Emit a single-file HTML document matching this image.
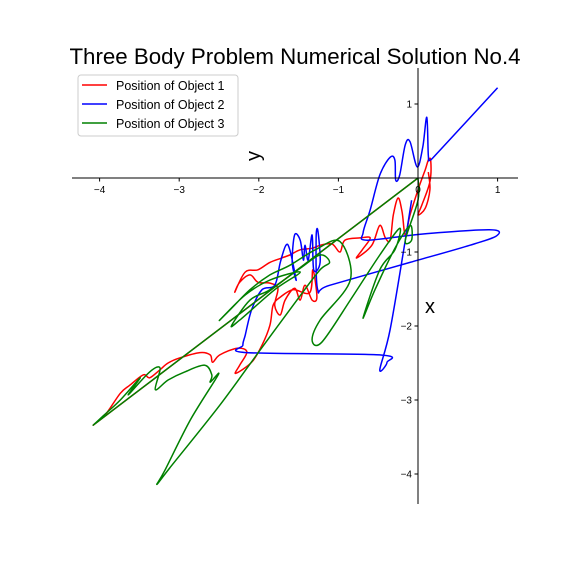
<!DOCTYPE html>
<html><head><meta charset="utf-8"><style>
body{margin:0;background:#fff;}
svg text{font-family:"Liberation Sans","DejaVu Sans",sans-serif;}
</style></head><body>
<svg id="chart" width="576" height="576" viewBox="0 0 576 576" xmlns="http://www.w3.org/2000/svg">
<rect width="576" height="576" fill="#fff"/>
<text x="295" y="64" font-size="22.3" text-anchor="middle">Three Body Problem Numerical Solution No.4</text>
<g id="series"></g>
<g id="axes"></g>
<text x="260" y="156" font-size="20" text-anchor="middle" transform="rotate(-90 260 156)">y</text>
<text x="430" y="313" font-size="20" text-anchor="middle">x</text>
<g>
<rect x="78" y="75" width="160" height="61" rx="3" fill="#fff" fill-opacity="0.8" stroke="#ccc"/>
<g><line x1="82" y1="85" x2="107" y2="85" stroke="red" stroke-width="1.6"/><text x="116" y="90" font-size="12.5">Position of Object 1</text></g>
<g><line x1="82" y1="104" x2="107" y2="104" stroke="blue" stroke-width="1.6"/><text x="116" y="109" font-size="12.5">Position of Object 2</text></g>
<g><line x1="82" y1="123" x2="107" y2="123" stroke="green" stroke-width="1.6"/><text x="116" y="128" font-size="12.5">Position of Object 3</text></g>
</g>
</svg>
<script>
const xTicks=[-4,-3,-2,-1,0,1];
const yTicks=[1,0,-1,-2,-3,-4];
const obj1X=[0,-4.08,-3.93,-3.74,-3.62,-3.45,-3.37,-3.24,-3.14,-2.99,-2.74,-2.61,-2.58,-2.49,-2.27,-2.15,-2.24,-2.29,-2.09,-1.96,-1.86,-1.82,-1.73,-1.57,-1.36,-1.32,-1.27,-1.33,-1.42,-1.48,-1.55,-1.67,-1.73,-1.80,-1.76,-1.86,-2.01,-2.11,-2.24,-2.30,-2.17,-2.01,-1.86,-1.71,-1.61,-1.48,-1.33,-1.23,-1.08,-0.98,-0.92,-0.73,-0.60,-0.70,-0.77,-0.58,-0.48,-0.41,-0.35,-0.31,-0.25,-0.20,-0.16,-0.10,0.00,0.09,0.13,0.16,0.15,0.05,0.00,0.09,0.15,0.13];
const obj1Y=[0,-3.34,-3.20,-2.91,-2.80,-2.66,-2.70,-2.59,-2.50,-2.43,-2.36,-2.39,-2.49,-2.39,-2.30,-2.35,-2.53,-2.64,-2.49,-2.26,-1.99,-1.72,-1.61,-1.51,-1.55,-1.24,-1.61,-1.65,-1.45,-1.65,-1.49,-1.65,-1.85,-1.72,-1.49,-1.42,-1.41,-1.31,-1.41,-1.54,-1.27,-1.24,-1.14,-1.08,-1.04,-0.97,-0.95,-0.91,-0.89,-1.00,-0.84,-0.81,-0.81,-0.97,-1.08,-0.91,-0.64,-0.81,-0.84,-0.50,-0.27,-0.46,-0.77,-0.50,-0.16,0.11,0.24,0.24,-0.05,-0.36,-0.50,-0.41,-0.16,0.08];
const obj2X=[1.0,0.28,0.15,0.13,0.11,0.06,-0.01,-0.10,-0.16,-0.23,-0.28,-0.29,-0.35,-0.48,-0.60,-0.69,-0.64,0.03,0.90,0.99,0.65,-0.10,-1.11,-1.26,-1.28,-1.26,-1.23,-1.31,-1.33,-1.38,-1.42,-1.44,-1.48,-1.55,-1.58,-1.53,-1.61,-1.66,-1.73,-1.80,-1.96,-2.09,-2.17,-2.20,-2.15,-0.48,-0.39,-0.48,-0.35,-0.16,-0.08];
const obj2Y=[1.22,0.38,0.24,0.31,0.82,0.42,0.15,0.49,0.45,0.04,-0.03,0.24,0.28,0.04,-0.43,-0.74,-0.84,-0.76,-0.70,-0.78,-0.91,-1.14,-1.45,-1.51,-0.84,-0.70,-1.14,-1.24,-0.77,-1.11,-0.91,-1.11,-0.84,-0.77,-1.14,-1.38,-0.97,-0.91,-1.14,-1.45,-1.51,-1.78,-2.12,-2.26,-2.36,-2.39,-2.49,-2.59,-2.05,-0.84,-0.30];
const obj3X=[0,-4.08,-3.94,-3.74,-3.49,-3.64,-3.37,-3.24,-3.30,-3.14,-2.93,-2.68,-2.59,-2.61,-2.51,-2.86,-3.18,-3.28,-3.12,-2.49,-1.98,-1.48,-1.23,-1.11,-1.23,-1.48,-1.86,-2.11,-2.34,-2.24,-1.80,-1.48,-1.86,-2.17,-2.49,-2.36,-2.11,-1.86,-1.61,-1.29,-0.98,-0.85,-1.23,-1.33,-1.21,-0.85,-0.48,-0.23,-0.29,-0.48,-0.69,-0.54,-0.29,-0.10,-0.08,-0.16,0,0];
const obj3Y=[0,-3.34,-3.20,-3.00,-2.70,-2.93,-2.62,-2.57,-2.86,-2.73,-2.62,-2.53,-2.66,-2.76,-2.66,-3.27,-3.95,-4.14,-3.92,-3.07,-2.32,-1.59,-1.24,-1.14,-1.04,-1.22,-1.51,-1.65,-1.99,-1.92,-1.51,-1.27,-1.38,-1.58,-1.92,-1.78,-1.51,-1.31,-1.18,-0.97,-0.86,-1.38,-1.92,-2.19,-2.22,-1.65,-1.04,-0.68,-0.97,-1.24,-1.89,-1.51,-0.95,-0.64,-0.84,-0.84,-0.30,0];
const NS="http://www.w3.org/2000/svg";
function sx(v){return 418+v*79.6;}
function sy(v){return 178-v*74;}
const axes=document.getElementById('axes');
const series=document.getElementById('series');
function mk(tag,attrs,parent){const e=document.createElementNS(NS,tag);for(const k in attrs)e.setAttribute(k,attrs[k]);parent.appendChild(e);return e;}
const xs=mk('line',{x1:72,y1:sy(0),x2:518,y2:sy(0),stroke:'#000','stroke-width':1},axes);


const ys=mk('line',{x1:sx(0),y1:68,x2:sx(0),y2:504,stroke:'#000','stroke-width':1},axes);


xTicks.forEach(t=>{
  mk('line',{x1:sx(t),y1:sy(0),x2:sx(t),y2:sy(0)+3.5,stroke:'#000'},axes);
  const tx=mk('text',{x:sx(t),y:sy(0)+15,'font-size':10,'text-anchor':'middle'},axes);
  tx.textContent=t<0?'\u2212'+(-t):String(t);
  
  
});
yTicks.forEach(t=>{
  if(t===0)return;
  mk('line',{x1:sx(0)-3.5,y1:sy(t),x2:sx(0),y2:sy(t),stroke:'#000'},axes);
  const tx=mk('text',{x:sx(0)-6,y:sy(t)+3.5,'font-size':10,'text-anchor':'end'},axes);
  tx.textContent=t<0?'\u2212'+(-t):String(t);
  
  
});
function segLen(a,b){return Math.hypot(a[0]-b[0],a[1]-b[1]);}
function draw(X,Y,color,name){
  const P=X.map((v,i)=>[sx(v),sy(Y[i])]);
  let d='M'+P[0][0].toFixed(1)+' '+P[0][1].toFixed(1);
  for(let i=0;i<P.length-1;i++){
    const p1=P[i],p2=P[i+1];
    if(segLen(p1,p2)>200){d+=' L'+p2[0].toFixed(1)+' '+p2[1].toFixed(1);continue;}
    let p0=P[i-1]||p1,p3=P[i+2]||p2;
    if(segLen(p0,p1)>200)p0=p1;
    if(segLen(p2,p3)>200)p3=p2;
    const k=1/6;
    const c1=[p1[0]+(p2[0]-p0[0])*k,p1[1]+(p2[1]-p0[1])*k];
    const c2=[p2[0]-(p3[0]-p1[0])*k,p2[1]-(p3[1]-p1[1])*k];
    d+=' C'+c1[0].toFixed(1)+' '+c1[1].toFixed(1)+' '+c2[0].toFixed(1)+' '+c2[1].toFixed(1)+' '+p2[0].toFixed(1)+' '+p2[1].toFixed(1);
  }
  const p=mk('path',{d:d,fill:'none',stroke:color,'stroke-width':1.5,'stroke-linejoin':'round'},series);
  
  
}
draw(obj1X,obj1Y,'red','object-1-trajectory');
draw(obj2X,obj2Y,'blue','object-2-trajectory');
draw(obj3X,obj3Y,'green','object-3-trajectory');
</script>
</body></html>
